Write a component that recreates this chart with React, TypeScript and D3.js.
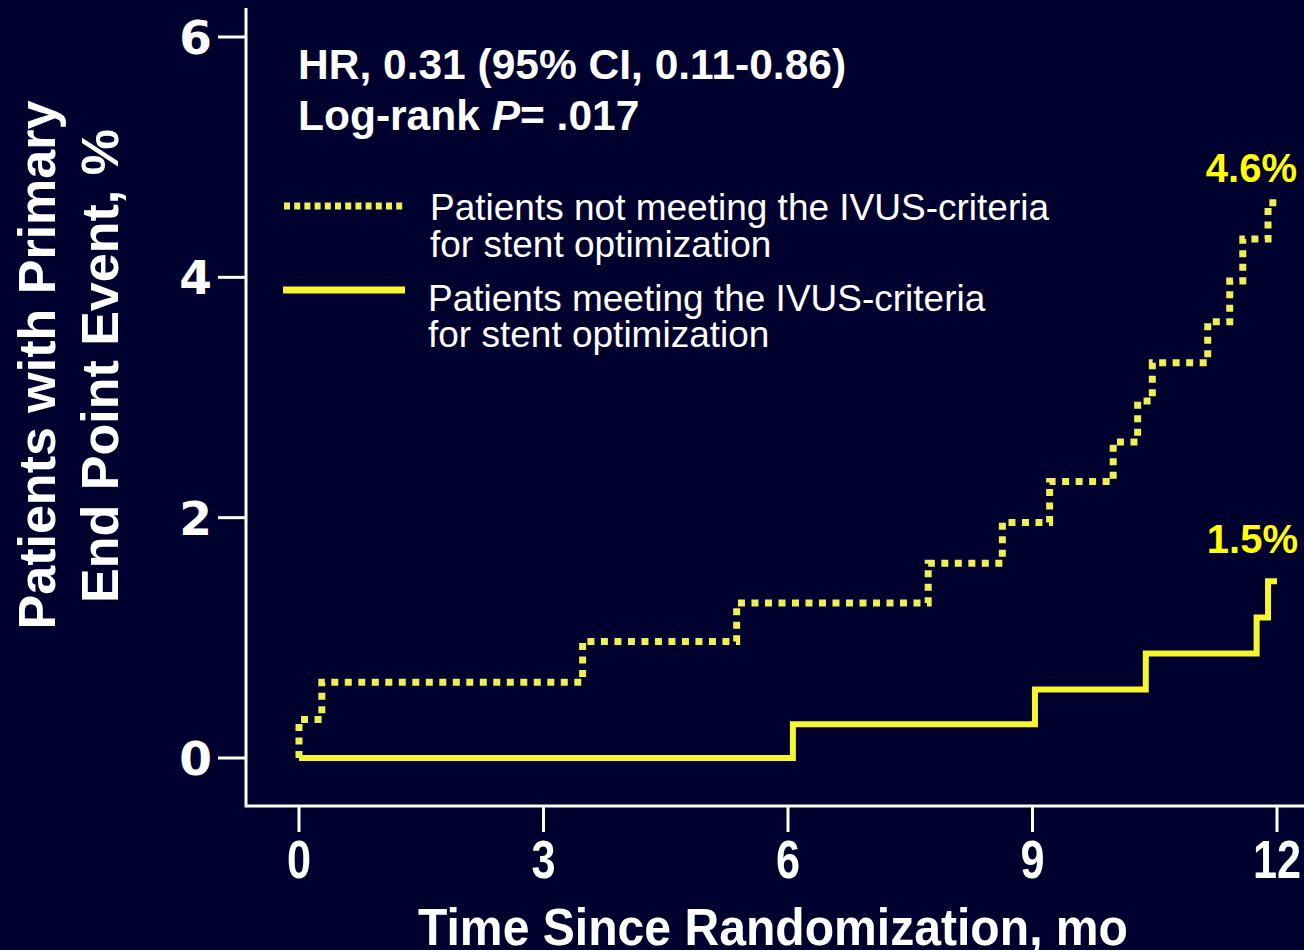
import React from "react";
import * as d3 from "d3";

const xTicks = [0, 3, 6, 9, 12];
const yTicks = [0, 2, 4, 6];

const notMeetTimes = [0, 0, 0.28, 3.48, 5.37, 7.72, 8.63, 9.21, 9.99, 10.29, 10.47, 11.15, 11.42, 11.58, 11.89, 12.0];
const notMeetValues = [0, 0.32, 0.63, 0.97, 1.29, 1.62, 1.96, 2.3, 2.63, 2.97, 3.29, 3.63, 3.97, 4.32, 4.62, 4.62];

const meetTimes = [0, 6.06, 9.03, 10.39, 11.75, 11.89, 12.0];
const meetValues = [0, 0.28, 0.57, 0.87, 1.17, 1.47, 1.47];

const endLabels = ["4.6%", "1.5%"];
const legendLabels = [
  ["Patients not meeting the IVUS-criteria", "for stent optimization"],
  ["Patients meeting the IVUS-criteria", "for stent optimization"],
];

const W = 1304;
const H = 950;
const BG = "#00002f";
const YEL = "#f6f62e";
const YEL_DOT = "#efef55";
const SANS = "'Liberation Sans', Arial, sans-serif";
const WIDE = "'DejaVu Sans', Verdana, sans-serif";

export default function App() {
  const x = d3.scaleLinear().domain([0, 12]).range([299, 1277]);
  const y = d3.scaleLinear().domain([0, 6]).range([758, 37]);

  const line = d3
    .line<[number, number]>()
    .x((d) => x(d[0]))
    .y((d) => y(d[1]))
    .curve(d3.curveStepAfter);

  const notMeet: [number, number][] = notMeetTimes.map((t, i) => [t, notMeetValues[i]]);
  const meet: [number, number][] = meetTimes.map((t, i) => [t, meetValues[i]]);

  const axisX = 246;
  const axisY = 806;

  return (
    <svg
      width={W}
      height={H}
      style={{ position: "absolute", left: 0, top: 0, display: "block" }}
    >
      <rect x={0} y={0} width={W} height={H} fill={BG} />

      {/* axes */}
      <path
        d={`M${axisX},8 L${axisX},${axisY} L${W},${axisY}`}
        fill="none"
        stroke="#ffffff"
        strokeWidth={3}
      />
      {yTicks.map((t) => (
        <g key={"y" + t}>
          <line x1={218} x2={axisX} y1={y(t)} y2={y(t)} stroke="#fff" strokeWidth={3} />
          <text
            x={212}
            y={y(t) + 17}
            fill="#fff"
            fontFamily={WIDE}
            fontWeight="bold"
            fontSize={47}
            textAnchor="end"
          >
            {t}
          </text>
        </g>
      ))}
      {xTicks.map((t) => (
        <g key={"x" + t}>
          <line x1={x(t)} x2={x(t)} y1={axisY} y2={832} stroke="#fff" strokeWidth={3} />
          <g transform={`translate(${x(t)},878) scale(0.8,1)`}>
            <text
              x={0}
              y={0}
              fill="#fff"
              fontFamily={SANS}
              fontWeight="bold"
              fontSize={54}
              textAnchor="middle"
            >
              {t}
            </text>
          </g>
        </g>
      ))}

      {/* axis titles */}
      <text
        x={418}
        y={945}
        fill="#fff"
        fontFamily={SANS}
        fontWeight="bold"
        fontSize={52}
        textLength={710}
        lengthAdjust="spacingAndGlyphs"
      >
        Time Since Randomization, mo
      </text>
      <g transform="translate(55,365) rotate(-90)">
        <text x={0} y={0} fill="#fff" fontFamily={SANS} fontWeight="bold" fontSize={52} textAnchor="middle">
          Patients with Primary
        </text>
      </g>
      <g transform="translate(118,366) rotate(-90)">
        <text x={0} y={0} fill="#fff" fontFamily={SANS} fontWeight="bold" fontSize={52} textAnchor="middle">
          End Point Event, %
        </text>
      </g>

      {/* annotation */}
      <text x={298} y={79} fill="#fff" fontFamily={SANS} fontWeight="bold" fontSize={42.5}>
        HR, 0.31 (95% CI, 0.11-0.86)
      </text>
      <text x={298} y={130} fill="#fff" fontFamily={SANS} fontWeight="bold" fontSize={42.5}>
        Log-rank <tspan fontStyle="italic">P</tspan>= .017
      </text>

      {/* legend */}
      <line x1={284} x2={405} y1={206} y2={206} stroke={YEL_DOT} strokeWidth={7} strokeDasharray="6 4.2" />
      <text x={430} y={220} fill="#fff" fontFamily={SANS} fontSize={37}>
        {legendLabels[0][0]}
      </text>
      <text x={430} y={257} fill="#fff" fontFamily={SANS} fontSize={37}>
        {legendLabels[0][1]}
      </text>
      <line x1={283} x2={405} y1={290} y2={290} stroke={YEL} strokeWidth={7} />
      <text x={428} y={311} fill="#fff" fontFamily={SANS} fontSize={37}>
        {legendLabels[1][0]}
      </text>
      <text x={428} y={347} fill="#fff" fontFamily={SANS} fontSize={37}>
        {legendLabels[1][1]}
      </text>

      {/* curves */}
      <path d={line(meet) || ""} fill="none" stroke={YEL} strokeWidth={6} />
      <path
        d={line(notMeet) || ""}
        fill="none"
        stroke={YEL_DOT}
        strokeWidth={7}
        strokeDasharray="7 6.5"
      />

      {/* end labels */}
      <text x={1297} y={182} fill="#ffff00" fontFamily={SANS} fontWeight="bold" fontSize={40} textAnchor="end">
        {endLabels[0]}
      </text>
      <text x={1298} y={553} fill="#ffff00" fontFamily={SANS} fontWeight="bold" fontSize={40} textAnchor="end">
        {endLabels[1]}
      </text>
    </svg>
  );
}
